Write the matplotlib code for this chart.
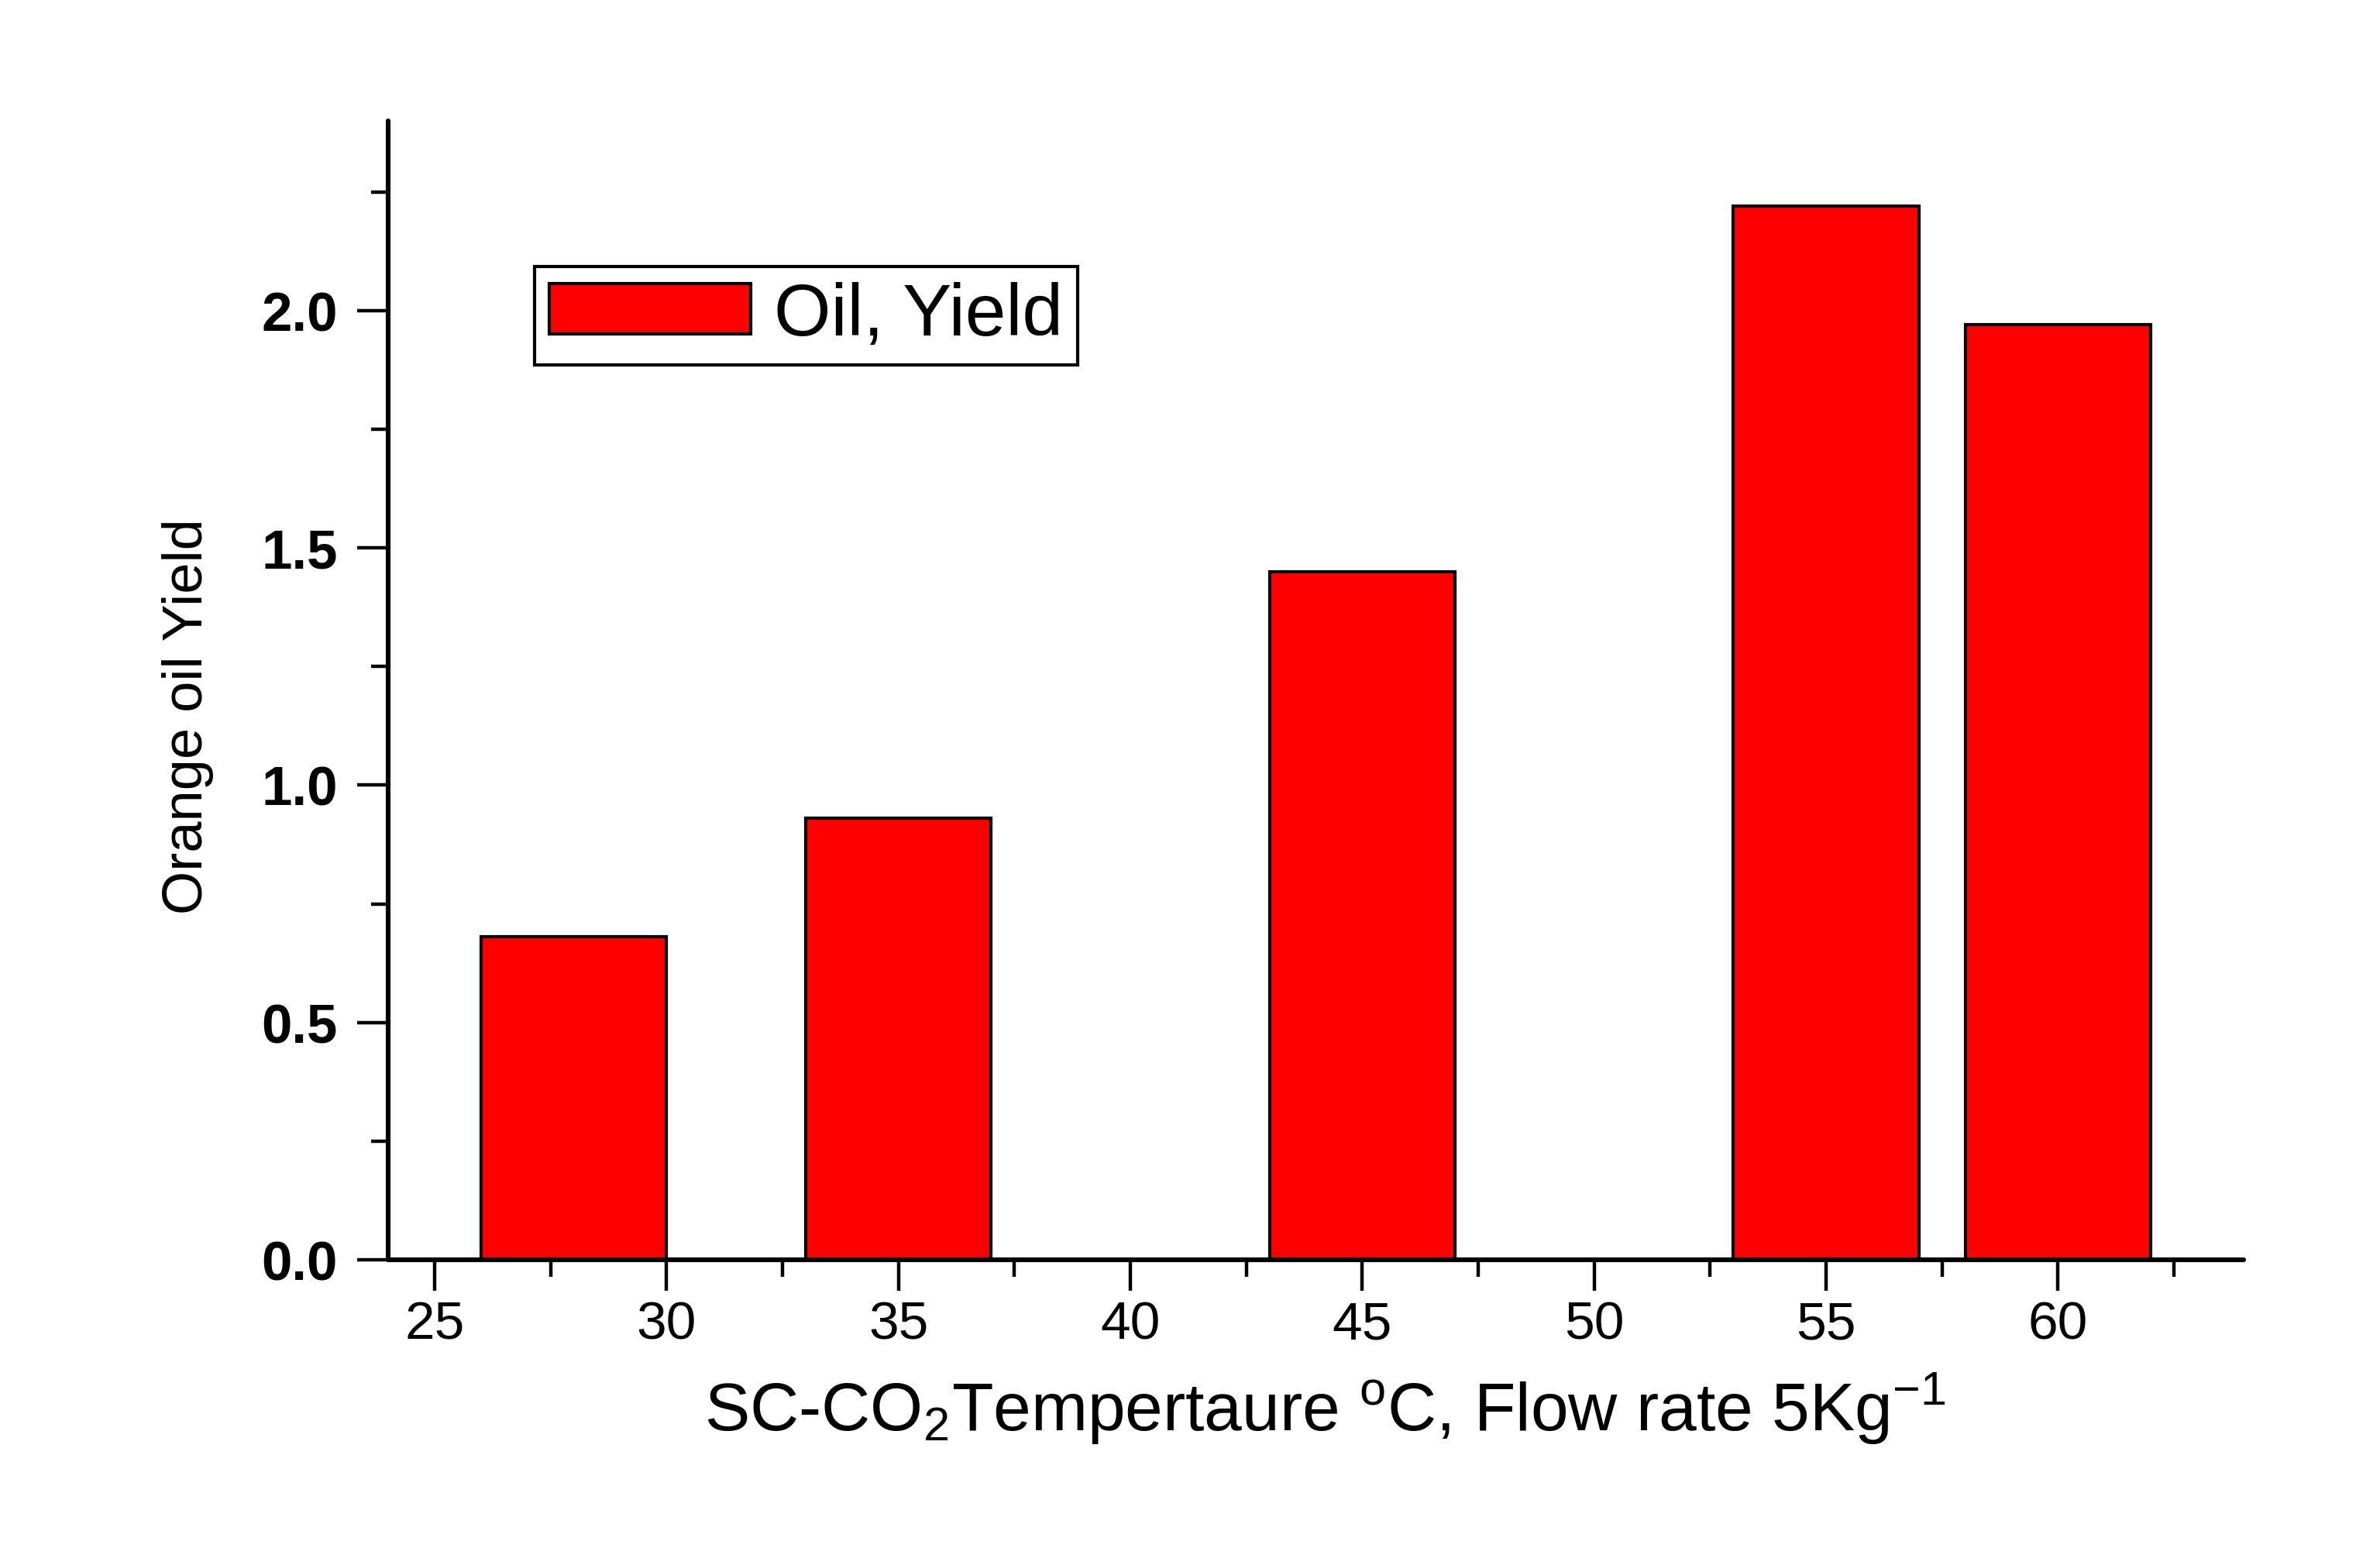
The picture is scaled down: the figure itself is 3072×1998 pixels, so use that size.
import matplotlib
matplotlib.use("Agg")
import matplotlib.pyplot as plt
from matplotlib.ticker import MultipleLocator, FixedLocator

plt.rcParams['font.family'] = ['Liberation Sans', 'DejaVu Sans']
plt.rcParams['mathtext.fontset'] = 'custom'
plt.rcParams['mathtext.rm'] = 'Liberation Sans'
plt.rcParams['mathtext.it'] = 'Liberation Sans:italic'
plt.rcParams['mathtext.bf'] = 'Liberation Sans:bold'

# Data
temperatures = [28, 35, 45, 55, 60]
oil_yield = [0.68, 0.93, 1.45, 2.22, 1.97]
series_label = "Oil, Yield"
x_major_ticks = [25, 30, 35, 40, 45, 50, 55, 60]
y_major_ticks = [0.0, 0.5, 1.0, 1.5, 2.0]
y_tick_labels = ["0.0", "0.5", "1.0", "1.5", "2.0"]
x_label = r"SC-CO$_2$Tempertaure $^{\mathrm{o}}$C, Flow rate 5Kg$^{-1}$"
y_label = "Orange oil Yield"

fig = plt.figure(figsize=(15.36, 9.995), dpi=200)
ax = fig.add_axes([0.1631, 0.1861, 0.9427 - 0.1631, 0.9215 - 0.1861])

ax.bar(temperatures, oil_yield, width=4, color="#ff0000", edgecolor="black",
       linewidth=1.5, label=series_label, zorder=2)

ax.set_xlim(24, 64)
ax.set_ylim(0, 2.4)

ax.spines['top'].set_visible(False)
ax.spines['right'].set_visible(False)
for s in ('left', 'bottom'):
    ax.spines[s].set_linewidth(2.2)
    ax.spines[s].set_capstyle('round')

ax.xaxis.set_major_locator(FixedLocator(x_major_ticks))
ax.xaxis.set_minor_locator(MultipleLocator(2.5))
ax.yaxis.set_major_locator(FixedLocator(y_major_ticks))
ax.set_yticklabels(y_tick_labels)
ax.yaxis.set_minor_locator(MultipleLocator(0.25))

ax.tick_params(axis='both', which='major', direction='out', length=14.5, width=1.6)
ax.tick_params(axis='both', which='minor', direction='out', length=8, width=1.6)
ax.tick_params(axis='x', which='major', labelsize=25, pad=4)
ax.tick_params(axis='y', which='major', labelsize=25.5, pad=9)
for lab in ax.get_yticklabels():
    lab.set_fontweight('bold')

ax.set_xlabel(x_label, fontsize=31.5)
ax.xaxis.set_label_coords(0.5048, -0.098)
ax.set_ylabel(y_label, fontsize=26)
ax.yaxis.set_label_coords(-0.094, 0.4776)

leg = ax.legend(loc='upper left', bbox_to_anchor=(0.0789, 0.872), borderaxespad=0,
                fontsize=34, frameon=True, fancybox=False, edgecolor='black',
                handlelength=2.75, handleheight=0.68, handletextpad=0.32,
                borderpad=0.2)
leg.get_frame().set_linewidth(1.5)
leg.get_frame().set_alpha(None)

fig.savefig("out.png", dpi=200, facecolor='white')
